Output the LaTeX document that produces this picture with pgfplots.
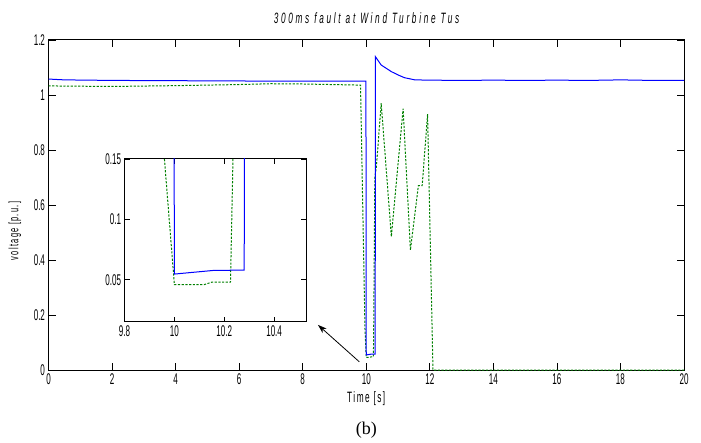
\documentclass[border=0pt]{standalone}
\usepackage{pgfplots}
\pgfplotsset{compat=1.18}
\usepackage{fontspec}
\setmainfont{Liberation Sans}
\newfontfamily\narrow[FakeStretch=0.52]{Liberation Sans}
\newfontfamily\narrowsp[FakeStretch=0.55,LetterSpace=10]{Liberation Sans}
\newfontfamily\titlefont[FakeStretch=0.55,LetterSpace=18]{Liberation Sans}
\newfontfamily\serif{Liberation Serif}
\usetikzlibrary{arrows.meta}
\definecolor{mblue}{RGB}{0,0,255}
\definecolor{mgreen}{RGB}{0,128,0}
\pgfplotstableread{
x y
0 1.058
0.5 1.055
2 1.053
4 1.052
6 1.051
8 1.05
9.99 1.05
10.0 0.0547
10.156 0.0577
10.28 0.058
10.29 1.139
10.47 1.109
10.79 1.085
11.0 1.073
11.2 1.063
11.53 1.055
12 1.054
13 1.053
14 1.054
15 1.053
16 1.054
17 1.053
18 1.055
19 1.053
20 1.053
}\bluedata
\pgfplotstableread{
x y
0 1.033
2 1.031
4 1.034
6 1.038
7 1.041
8 1.040
9.82 1.036
9.96 0.15
10.0 0.046
10.12 0.046
10.15 0.048
10.225 0.048
10.235 0.15
10.27 0.70
10.32 0.74
10.47 0.97
10.79 0.485
11.16 0.95
11.39 0.436
11.64 0.67
11.76 0.67
11.93 0.93
12.1 0.0
20 0.0
}\greendata
\begin{document}
\begin{tikzpicture}
\useasboundingbox (-48.5bp,-73bp) rectangle (652.5bp,370bp);
\begin{axis}[name=main, at={(0,0)}, anchor=south west, scale only axis,
  width=635.5bp, height=330bp,
  xmin=0, xmax=20, ymin=0, ymax=1.2,
  xtick={0,2,4,6,8,10,12,14,16,18,20},
  ytick={0,0.2,0.4,0.6,0.8,1,1.2},
  tick align=inside, major tick length=7bp,
  axis line style={line width=1bp},
  tick style={line width=0.8bp, black},
  ticklabel style={font=\narrow\fontsize{15.5bp}{17bp}\selectfont},
  /pgf/number format/assume math mode=true]
\addplot[mgreen, dash pattern=on 2.2bp off 1.5bp, line width=1bp] table {\greendata};
\addplot[mblue, line width=1bp] table {\bluedata};
\draw[-{Stealth[length=9bp,width=6bp]}, line width=0.8bp] (axis cs:9.78,0.03) -- (axis cs:8.48,0.164);
\end{axis}
\begin{axis}[at={(76bp,48bp)}, anchor=south west, scale only axis,
  width=181.5bp, height=163bp,
  xmin=9.8, xmax=10.528, ymin=0.015, ymax=0.15,
  xtick={9.8,10,10.2,10.4}, ytick={0.05,0.1,0.15},
  xticklabels={9.8,10,10.2,10.4}, yticklabels={0.05,0.1,0.15},
  axis background/.style={fill=white},
  tick align=inside, major tick length=5bp,
  axis line style={line width=1bp},
  tick style={line width=0.8bp, black},
  ticklabel style={font=\narrow\fontsize{15.5bp}{17bp}\selectfont}]
\addplot[mgreen, dash pattern=on 2.2bp off 1.5bp, line width=1bp] table {\greendata};
\addplot[mblue, line width=1bp] table {\bluedata};
\end{axis}
\node[font=\titlefont\fontsize{15bp}{17bp}\selectfont\itshape] at (318bp,352bp) {300ms fault at Wind Turbine Tus};
\node[font=\narrowsp\fontsize{13.5bp}{15bp}\selectfont, rotate=90] at (-33.5bp,139bp) {voltage [p.u.]};
\node[font=\narrowsp\fontsize{15bp}{17bp}\selectfont] at (317.75bp,-29bp) {Time [s]};
\node[font=\serif\fontsize{18bp}{20bp}\selectfont] at (317.75bp,-60bp) {(b)};
\end{tikzpicture}
\end{document}
